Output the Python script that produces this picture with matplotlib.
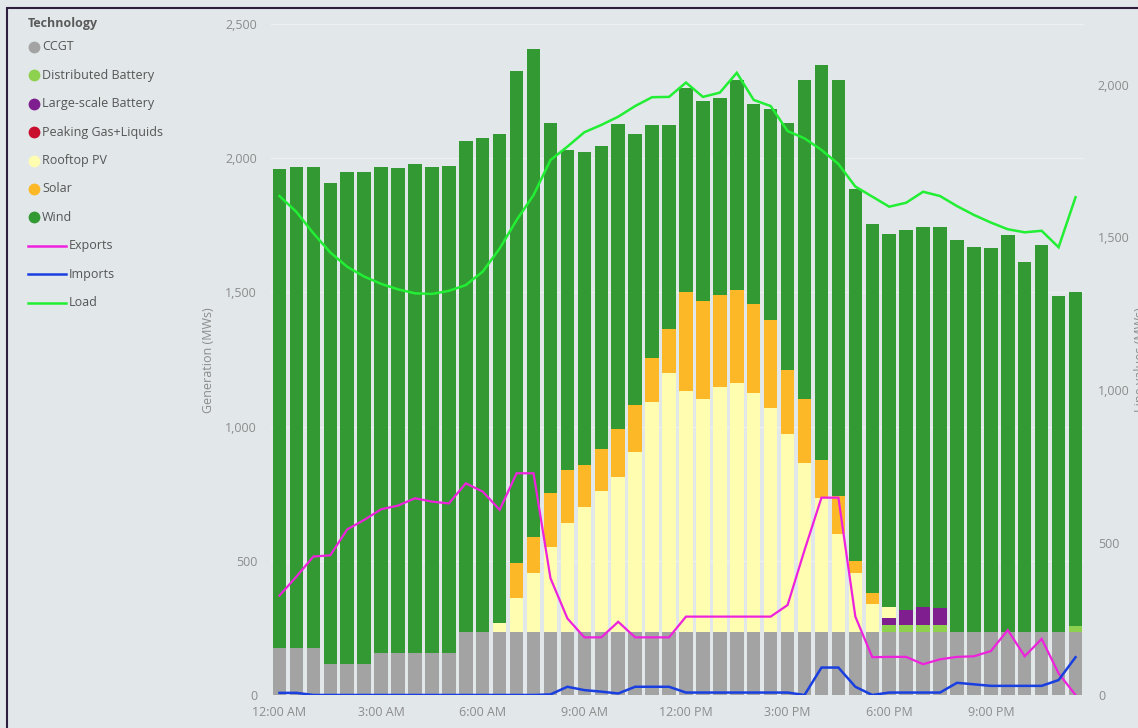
import matplotlib
matplotlib.use("Agg")
import matplotlib.pyplot as plt
from matplotlib.ticker import FuncFormatter, FixedLocator
from matplotlib.lines import Line2D
from matplotlib.patches import Rectangle

plt.rcParams['font.family'] = ['Open Sans', 'DejaVu Sans']

# Half-hourly trading intervals
slots = [f"{(h % 12) or 12}:{m:02d} {'AM' if h < 12 else 'PM'}"
         for h in range(24) for m in (0, 30)]
tick_labels = ["12:00 AM", "3:00 AM", "6:00 AM", "9:00 AM",
               "12:00 PM", "3:00 PM", "6:00 PM", "9:00 PM"]

# Generation by technology (MW)
ccgt = [175, 175, 175, 115, 115, 115, 155, 155, 155, 155, 155, 236,
        236, 236, 236, 236, 236, 236, 236, 236, 236, 236, 236, 236,
        236, 236, 236, 236, 236, 236, 236, 236, 236, 236, 236, 236,
        236, 236, 236, 236, 236, 236, 236, 236, 236, 236, 236, 236]
distributed_battery = [0, 0, 0, 0, 0, 0, 0, 0, 0, 0, 0, 0,
                       0, 0, 0, 0, 0, 0, 0, 0, 0, 0, 0, 0,
                       0, 0, 0, 0, 0, 0, 0, 0, 0, 0, 0, 0,
                       25, 25, 25, 25, 0, 0, 0, 0, 0, 0, 0, 21]
large_battery = [0, 0, 0, 0, 0, 0, 0, 0, 0, 0, 0, 0,
                 0, 0, 0, 0, 0, 0, 0, 0, 0, 0, 0, 0,
                 0, 0, 0, 0, 0, 0, 0, 0, 0, 0, 0, 0,
                 25, 56, 68, 62, 0, 0, 0, 0, 0, 0, 0, 0]
peaking = [0] * 48
rooftop_pv = [0, 0, 0, 0, 0, 0, 0, 0, 0, 0, 0, 0,
              0, 31, 124, 219, 317, 406, 466, 525, 577, 670, 857, 965,
              898, 866, 910, 925, 888, 832, 735, 627, 499, 364, 220, 102,
              43, 0, 0, 0, 0, 0, 0, 0, 0, 0, 0, 0]
solar = [0, 0, 0, 0, 0, 0, 0, 0, 0, 0, 0, 0,
         0, 0, 133, 132, 198, 196, 155, 154, 177, 174, 164, 164,
         369, 366, 344, 348, 332, 329, 240, 240, 141, 143, 43, 41,
         0, 0, 0, 0, 0, 0, 0, 0, 0, 0, 0, 0]
wind = [1785, 1791, 1791, 1792, 1834, 1832, 1811, 1807, 1823, 1811, 1817, 1828,
        1839, 1824, 1832, 1819, 1380, 1193, 1165, 1132, 1139, 1011, 867, 759,
        757, 745, 735, 782, 746, 788, 922, 1190, 1470, 1549, 1388, 1374,
        1390, 1416, 1413, 1419, 1458, 1435, 1431, 1476, 1377, 1442, 1252, 1243]

# Interconnector flows and demand (MW)
exports = [326, 388, 454, 458, 543, 574, 609, 621, 645, 634, 628, 694,
           667, 607, 727, 727, 383, 251, 189, 189, 240, 189, 189, 189,
           257, 257, 257, 257, 257, 257, 295, 475, 647, 647, 257, 124,
           125, 125, 101, 117, 125, 127, 144, 213, 127, 184, 71, 0]
imports = [7, 7, 0, 0, 0, 0, 0, 0, 0, 0, 0, 0,
           0, 0, 0, 0, 2, 27, 16, 11, 5, 27, 27, 27,
           8, 8, 8, 8, 8, 8, 8, 0, 90, 90, 27, 0,
           8, 8, 8, 8, 40, 35, 30, 30, 30, 30, 49, 124]
load = [1636, 1584, 1514, 1451, 1404, 1372, 1348, 1330, 1317, 1315, 1325, 1344,
        1388, 1464, 1557, 1639, 1754, 1798, 1845, 1869, 1896, 1931, 1960, 1961,
        2008, 1961, 1975, 2040, 1951, 1931, 1849, 1825, 1787, 1741, 1667, 1634,
        1601, 1614, 1650, 1636, 1603, 1574, 1549, 1527, 1517, 1522, 1468, 1632]

technologies = [
    ("CCGT", ccgt, "#A3A3A3"),
    ("Distributed Battery", distributed_battery, "#8DD14F"),
    ("Large-scale Battery", large_battery, "#7E1E8F"),
    ("Peaking Gas+Liquids", peaking, "#C8102E"),
    ("Rooftop PV", rooftop_pv, "#FFFDB0"),
    ("Solar", solar, "#FDB827"),
    ("Wind", wind, "#339933"),
]
flows = [
    ("Exports", exports, "#EE22DD", 1.6),
    ("Imports", imports, "#1A3FE0", 1.8),
    ("Load", load, "#22EE33", 1.8),
]

BG = "#E2E7EA"
TICK_C = "#8C8C8C"
W, H = 1138, 728

fig = plt.figure(figsize=(W / 100, H / 100), dpi=100, facecolor=BG)
ax = fig.add_axes([271 / W, (H - 695) / H, 813 / W, 671 / H])
ax.set_facecolor(BG)

x = list(range(len(slots)))
bottom = [0] * len(slots)
for name, vals, color in technologies:
    ax.bar(x, vals, width=0.8, bottom=bottom, color=color, linewidth=0, zorder=2)
    bottom = [b + v for b, v in zip(bottom, vals)]

ax.set_xlim(-0.5, len(slots) - 0.5)
ax.set_ylim(0, 2500)
ax.yaxis.set_major_locator(FixedLocator([0, 500, 1000, 1500, 2000, 2500]))
ax.yaxis.set_major_formatter(FuncFormatter(lambda v, p: f"{int(v):,}"))
ax.grid(axis="y", color="#EDF0F2", linewidth=1, zorder=0)
ax.set_xticks([slots.index(t) for t in tick_labels])
ax.set_xticklabels(tick_labels)
ax.tick_params(axis="both", length=0, labelsize=9, colors=TICK_C)
ax.tick_params(axis="x", pad=8)
ax.tick_params(axis="y", pad=10)
for s in ax.spines.values():
    s.set_visible(False)

ax2 = ax.twinx()
for name, vals, color, lw in flows:
    ax2.plot(x, vals, color=color, linewidth=lw, zorder=3, solid_joinstyle="miter")
ax2.set_ylim(0, 2200)
ax2.yaxis.set_major_locator(FixedLocator([0, 500, 1000, 1500, 2000]))
ax2.yaxis.set_major_formatter(FuncFormatter(lambda v, p: f"{int(v):,}"))
ax2.tick_params(axis="y", length=0, labelsize=9, colors=TICK_C, pad=10)
for s in ax2.spines.values():
    s.set_visible(False)

fig.text(209 / W, 1 - 360 / H, "Generation (MWs)", rotation=90, ha="center",
         va="center", fontsize=9, color=TICK_C)
fig.text(1141 / W, 1 - 360 / H, "Line values (MWs)", rotation=90, ha="center",
         va="center", fontsize=9, color=TICK_C)

# Legend
def px(xp, yp):
    return xp / W, 1 - yp / H

fig.text(*px(28, 23), "Technology", fontsize=9, fontweight="bold",
         color="#5A5A5A", ha="left", va="center")
row0, step = 47, 28.4
for i, (name, vals, color) in enumerate(technologies):
    yy = row0 + i * step
    fig.add_artist(Line2D([33.5 / W], [1 - yy / H], marker="o", markersize=8.5,
                          markerfacecolor=color, markeredgewidth=0,
                          transform=fig.transFigure))
    fig.text(*px(42, yy), name, fontsize=9, color="#555555", ha="left", va="center")
for j, (name, vals, color, lw) in enumerate(flows):
    yy = row0 + (len(technologies) + j) * step
    fig.add_artist(Line2D([28 / W, 66 / W], [1 - yy / H, 1 - yy / H], color=color,
                          linewidth=1.8, transform=fig.transFigure))
    fig.text(*px(69, yy), name, fontsize=9, color="#555555", ha="left", va="center")

# Panel frame
fig.add_artist(Rectangle((7 / W, -0.1), 1.2, 1.1 - 8 / H, transform=fig.transFigure,
                         fill=False, edgecolor="#2E1F3F", linewidth=1.5))

fig.savefig("out.png", dpi=100, facecolor=BG)
